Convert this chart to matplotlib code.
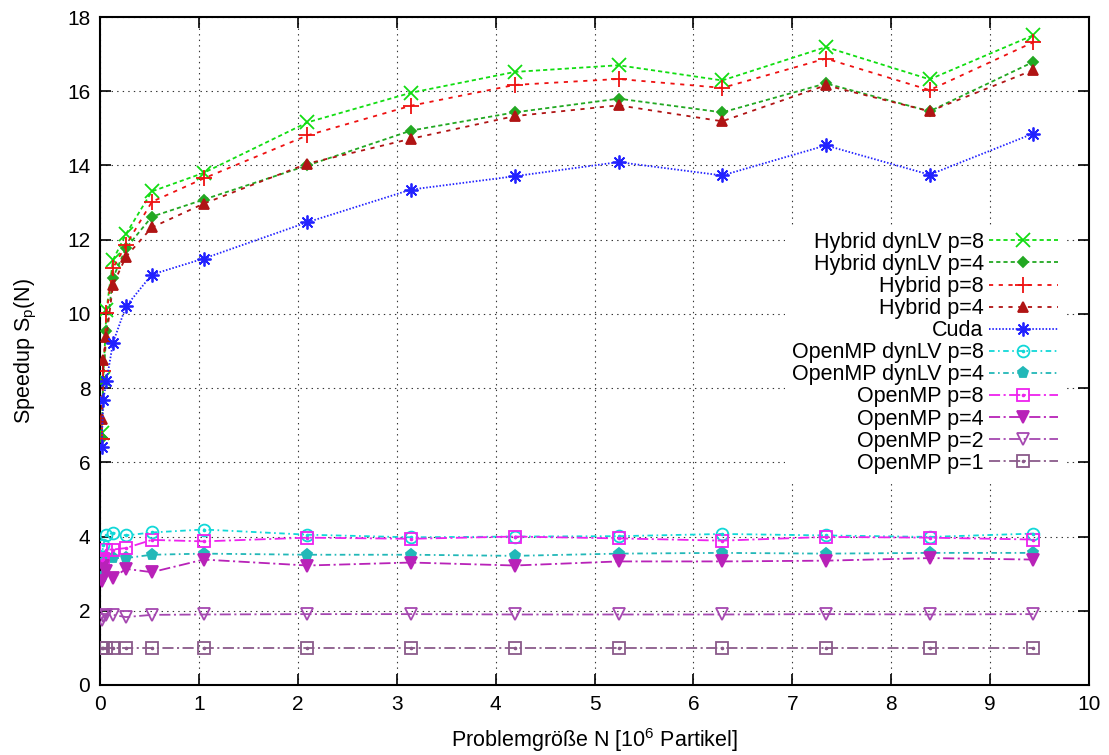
import matplotlib
matplotlib.use("Agg")
import matplotlib.pyplot as plt
from matplotlib.legend_handler import HandlerTuple

plt.rcParams['font.family'] = ['Liberation Sans', 'DejaVu Sans']
plt.rcParams['mathtext.fontset'] = 'custom'
plt.rcParams['mathtext.rm'] = 'Liberation Sans'
plt.rcParams['mathtext.it'] = 'Liberation Sans'
plt.rcParams['lines.scale_dashes'] = False

# Problem size N in 10^6 particles
n_size = [0.016384, 0.032768, 0.065536, 0.131072, 0.262144, 0.524288,
          1.048576, 2.097152, 3.145728, 4.194304, 5.242880, 6.291456,
          7.340032, 8.388608, 9.437184]

hyb_dyn8 = [6.80, 8.25, 10.10, 11.45, 12.15, 13.30, 13.80, 15.16, 15.96, 16.52, 16.70, 16.29, 17.19, 16.32, 17.51]
hyb_dyn4 = [6.66, 8.20, 9.53, 10.97, 11.77, 12.62, 13.08, 14.00, 14.94, 15.43, 15.80, 15.43, 16.21, 15.46, 16.79]
hyb8 = [6.62, 8.45, 10.03, 11.24, 11.85, 13.02, 13.65, 14.81, 15.61, 16.17, 16.33, 16.09, 16.88, 16.03, 17.32]
hyb4 = [7.18, 8.75, 9.37, 10.78, 11.54, 12.33, 12.97, 14.05, 14.72, 15.33, 15.62, 15.19, 16.16, 15.46, 16.57]
cuda = [6.40, 7.67, 8.19, 9.22, 10.20, 11.06, 11.49, 12.47, 13.35, 13.71, 14.09, 13.73, 14.54, 13.75, 14.86]
omp_dyn8 = [3.40, 3.78, 4.05, 4.10, 4.03, 4.11, 4.19, 4.05, 3.98, 4.00, 4.01, 4.07, 4.03, 3.99, 4.08]
omp_dyn4 = [2.90, 3.30, 3.45, 3.42, 3.42, 3.51, 3.54, 3.51, 3.51, 3.48, 3.54, 3.56, 3.54, 3.56, 3.56]
omp8 = [3.38, 3.40, 3.65, 3.65, 3.69, 3.91, 3.87, 3.97, 3.94, 4.00, 3.95, 3.89, 3.99, 3.97, 3.92]
omp4 = [2.79, 3.20, 3.06, 2.88, 3.13, 3.04, 3.38, 3.22, 3.30, 3.22, 3.33, 3.33, 3.35, 3.42, 3.38]
omp2 = [1.76, 1.85, 1.89, 1.89, 1.83, 1.89, 1.90, 1.91, 1.91, 1.90, 1.90, 1.90, 1.91, 1.90, 1.91]
omp1 = [1.00, 1.00, 1.00, 1.00, 1.00, 1.00, 1.00, 1.00, 1.00, 1.00, 1.00, 1.00, 1.00, 1.00, 1.00]

labels = ['Hybrid dynLV p=8', 'Hybrid dynLV p=4', 'Hybrid p=8', 'Hybrid p=4', 'Cuda',
          'OpenMP dynLV p=8', 'OpenMP dynLV p=4', 'OpenMP p=8', 'OpenMP p=4',
          'OpenMP p=2', 'OpenMP p=1']

fig = plt.figure(figsize=(11.09, 7.55), dpi=100)
ax = fig.add_axes([100 / 1109, 70 / 755, 989 / 1109, 668 / 755])

# style per series: color, marker, markersize, filled, dash pattern, center dot
styles = [
    (hyb_dyn8, '#11dd11', 'x', 9.5, True, (3, 2.2), False),
    (hyb_dyn4, '#22a822', 'D', 5.5, True, (3, 2.2), False),
    (hyb8, '#ee1111', '+', 12, True, (3, 4), False),
    (hyb4, '#b01414', '^', 7.5, True, (3, 4), False),
    (cuda, '#2222ff', (8, 2, 0), 10, True, (1.1, 1.3), False),
    (omp_dyn8, '#11d8d8', 'o', 8.5, False, (4, 2.5, 1.2, 2.5), True),
    (omp_dyn4, '#22b8b8', 'p', 8, True, (4, 2.5, 1.2, 2.5), False),
    (omp8, '#ee22ee', 's', 9, False, (8, 2.5, 1.5, 2.5), True),
    (omp4, '#b822b8', 'v', 8, True, (8, 2.5, 1.5, 2.5), False),
    (omp2, '#a548b0', 'v', 8.5, False, (8, 2.5, 1.5, 2.5), False),
    (omp1, '#8a5a8a', 's', 9, False, (8, 2.5, 1.5, 2.5), True),
]

handles = []
for (vals, col, mk, ms, filled, dash, dot), lab in zip(styles, labels):
    line, = ax.plot(n_size, vals, color=col, lw=1.3, marker=mk, markersize=ms,
                    markerfacecolor=col if filled else 'none', markeredgecolor=col,
                    markeredgewidth=1.3, dashes=dash, label=lab, zorder=3)
    if dot:
        d, = ax.plot(n_size, vals, ls='none', marker='o', markersize=1.6,
                     color=col, zorder=4)
        handles.append((line, d))
    else:
        handles.append(line)

ax.set_xlim(0, 10)
ax.set_ylim(0, 18)
ax.set_xticks(range(0, 11))
ax.set_yticks(range(0, 19, 2))
ax.tick_params(direction='in', length=8, width=1.2, top=True, right=True,
               labelsize=15, pad=7, colors='black')
ax.grid(True, color='black', lw=0.8, dashes=(1, 3), alpha=0.8)
for s in ax.spines.values():
    s.set_linewidth(1.5)

ax.set_xlabel('Problemgröße N [10$^6$ Partikel]', fontsize=15.5, labelpad=9)
ax.set_ylabel('Speedup S$_\\mathrm{p}$(N)', fontsize=15.5, labelpad=20)

leg = ax.legend(handles, labels, loc='upper right', bbox_to_anchor=(0.986, 0.704),
                markerfirst=False, numpoints=1, handlelength=3.2, handletextpad=0.25,
                fontsize=15.5, labelspacing=0.05, frameon=True, fancybox=False,
                borderpad=0.3, handler_map={tuple: HandlerTuple(ndivide=1)})
leg.get_frame().set_facecolor('white')
leg.get_frame().set_edgecolor('none')
leg.get_frame().set_alpha(1)

plt.savefig('out.png', dpi=100)
